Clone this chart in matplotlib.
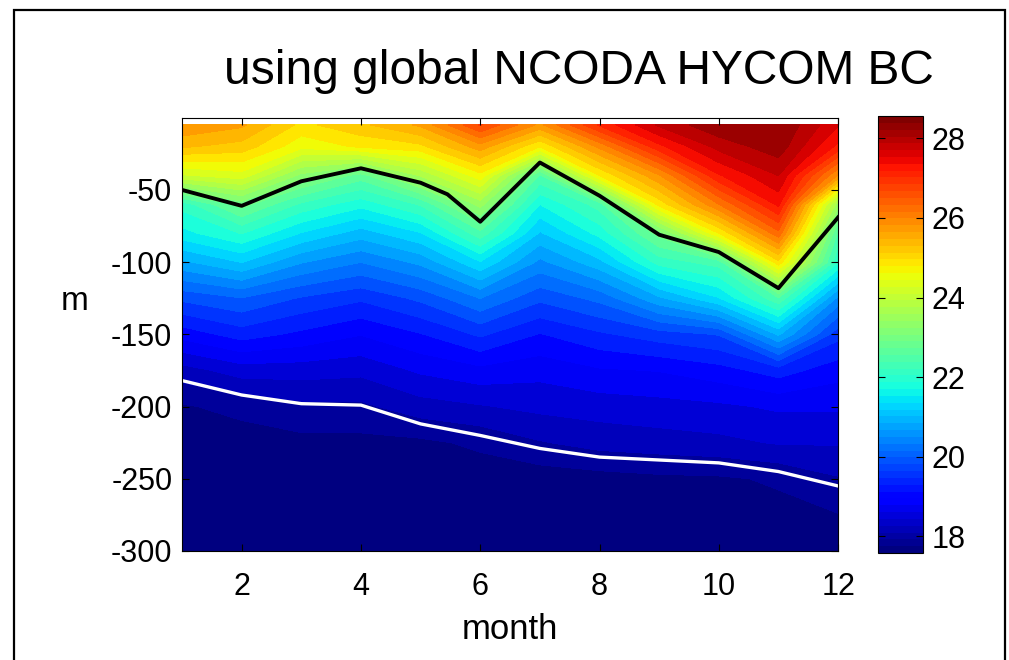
import matplotlib
matplotlib.use("Agg")
import matplotlib.pyplot as plt
import numpy as np
from matplotlib.colors import Normalize
from matplotlib.cm import ScalarMappable
from matplotlib.patches import Rectangle

plt.rcParams["font.family"] = ["Liberation Sans", "DejaVu Sans"]
plt.rcParams["axes.unicode_minus"] = False

# monthly temperature profiles (degC), rows = depth levels, columns = months
months = np.arange(1, 13)
depths = [-5, -20, -40, -60, -80, -100, -125, -150, -175, -200, -225, -250, -300]
temp_m1 = [26.0, 25.5, 24.3, 22.2, 21.7, 20.9, 19.9, 19.1, 18.3, 17.83, 17.75, 17.7, 17.58]
temp_m2 = [25.8, 25.35, 24.5, 23.05, 22.1, 21.25, 20.1, 19.4, 18.55, 17.95, 17.72, 17.68, 17.6]
temp_m3 = [25.1, 24.7, 23.4, 22.3, 21.5, 20.7, 19.8, 19.2, 18.55, 18.07, 17.78, 17.7, 17.6]
temp_m4 = [25.4, 24.95, 22.8, 21.9, 21.1, 20.4, 19.6, 19.0, 18.5, 18.08, 17.78, 17.7, 17.6]
temp_m5 = [25.8, 25.1, 23.8, 22.4, 21.5, 20.75, 19.9, 19.25, 18.75, 18.3, 17.8, 17.7, 17.6]
temp_m6 = [26.9, 25.9, 24.8, 23.6, 22.55, 21.5, 20.4, 19.6, 18.9, 18.4, 17.92, 17.7, 17.62]
temp_m7 = [25.95, 24.9, 22.6, 21.8, 21.2, 20.6, 19.9, 19.25, 18.8, 18.5, 18.12, 17.7, 17.62]
temp_m8 = [27.2, 26.1, 24.9, 22.5, 21.9, 21.15, 20.2, 19.5, 18.95, 18.55, 18.25, 17.75, 17.62]
temp_m9 = [28.05, 27.35, 26.0, 25.0, 23.05, 22.2, 20.9, 19.7, 19.0, 18.6, 18.3, 17.8, 17.62]
temp_m10 = [28.5, 28.1, 27.4, 26.3, 24.9, 22.5, 21.5, 19.85, 19.15, 18.65, 18.35, 17.82, 17.62]
temp_m11 = [28.56, 28.45, 28.0, 27.5, 26.5, 25.1, 22.6, 21.0, 19.4, 18.75, 18.45, 17.9, 17.65]
temp_m12 = [27.75, 27.35, 26.0, 23.6, 22.6, 22.1, 20.6, 19.65, 19.1, 18.75, 18.45, 18.12, 17.58]

# depth of the upper (black) and lower (white) reference lines
black_months = [1, 2, 3, 4, 5, 5.45, 6, 7, 8, 9, 10, 11, 12]
black_depth = [-50, -61, -44, -35, -45, -53, -72, -31, -54, -81, -93, -118, -69]
white_months = [1, 2, 3, 4, 5, 6, 7, 8, 9, 10, 11, 12]
white_depth = [-182, -192, -198, -199, -212, -220, -229, -235, -237, -239, -245, -255]

temp = np.column_stack([temp_m1, temp_m2, temp_m3, temp_m4, temp_m5, temp_m6,
                        temp_m7, temp_m8, temp_m9, temp_m10, temp_m11, temp_m12])
tmin, tmax = temp.min(), temp.max()

fig = plt.figure(figsize=(10.09, 6.6), dpi=100)
ax = fig.add_axes([0.1804, 0.1652, 0.6502, 0.6564])
cax = fig.add_axes([0.8702, 0.1621, 0.0446, 0.6621])

norm = Normalize(vmin=tmin, vmax=tmax)
jet = plt.get_cmap("jet")
levels = np.linspace(tmin, tmax, 40)
# each filled band takes the colour of its lower bound
band_colors = jet(norm(levels[:-1]))
ax.contourf(months, depths, temp, levels=levels, colors=band_colors)
ax.plot(black_months, black_depth, color="black", lw=2.8)
ax.plot(white_months, white_depth, color="white", lw=2.4)

ax.set_xlim(1, 12)
ax.set_ylim(-300, 0)
ax.set_xticks([2, 4, 6, 8, 10, 12])
ax.set_yticks([-300, -250, -200, -150, -100, -50])
ax.tick_params(direction="in", top=True, right=True, length=5, width=0.8,
               labelsize=22)
ax.tick_params(axis="x", pad=15)
ax.tick_params(axis="y", pad=7)
for s in ax.spines.values():
    s.set_linewidth(0.8)
ax.set_xlabel("month", fontsize=25, labelpad=8)
ax.set_ylabel("m", fontsize=24, rotation=0, va="center", ha="center")
ax.yaxis.set_label_coords(-0.163, 0.575)

cmap64 = plt.get_cmap("jet", 64)
cb = fig.colorbar(ScalarMappable(norm=norm, cmap=cmap64), cax=cax)
cb.set_ticks([18, 20, 22, 24, 26, 28])
cax.tick_params(direction="in", left=True, right=True, length=5, width=0.8,
                labelsize=22, pad=6)
cb.outline.set_linewidth(0.8)

fig.text(0.5733, 0.8727, "using global NCODA HYCOM BC", fontsize=34.5,
         ha="center", va="baseline")

# figure frame
fig.patches.append(Rectangle((0.0139, -0.02), 0.982, 1.0048, transform=fig.transFigure,
                             fill=False, edgecolor="black", lw=1.6))

fig.savefig("out.png", dpi=100)
